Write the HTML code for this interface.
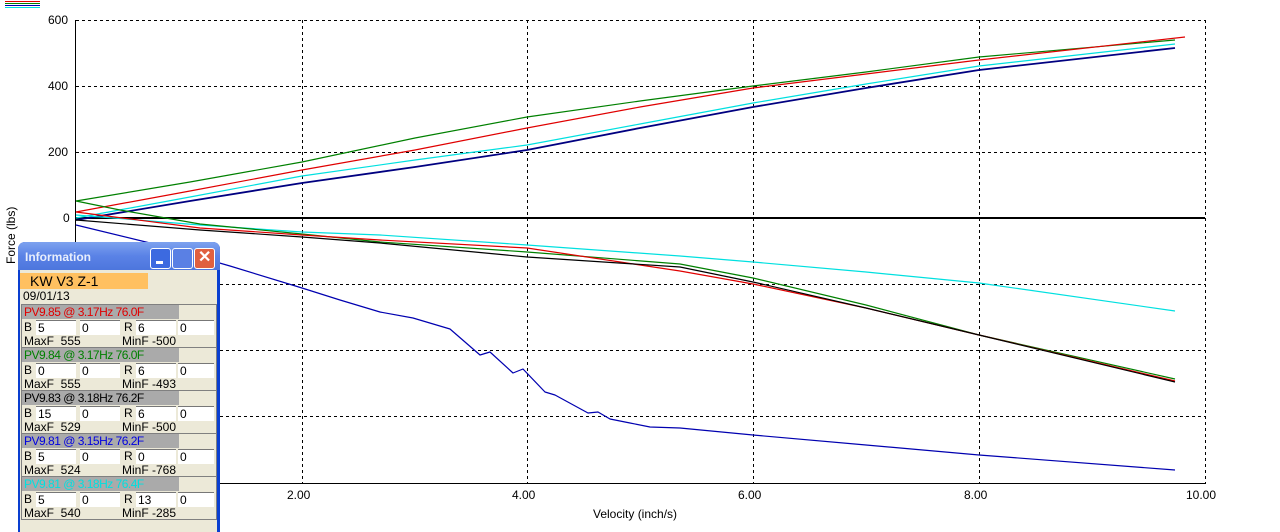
<!DOCTYPE html>
<html><head><style>
body{margin:0;width:1280px;height:523px;background:#fff;overflow:hidden;position:relative;font-family:"Liberation Sans",sans-serif}
.t{position:absolute;font-size:12px;color:#000}
#info{position:absolute;left:18px;top:242px;width:202px;height:290px;background:#0a3fd0;border-radius:7px 7px 0 0}
#tb{height:28px;background:linear-gradient(#7da2ef,#5a82e6 50%,#4d76dd);border-radius:7px 7px 0 0;color:#e8eefc;font-weight:bold;font-size:12px;line-height:30px;padding-left:7px;position:relative}
.bt{position:absolute;top:6px;width:19px;height:19px;border:1px solid #fff;border-radius:3px;background:#3c6ae0}
#body{position:absolute;left:2px;top:28px;right:3px;bottom:0;background:#ece9d8}
.grp{position:absolute;left:1px;width:194px;height:42px;border:1px solid #808080;background:#ece9d8;font-size:12px}
.hd{height:14px;width:155px;background:#aaa;line-height:14px;padding-left:2px;letter-spacing:-0.5px}
.f{position:absolute;top:15px;height:14px;background:#fff;border-top:1px solid #777;font-size:12px;line-height:14px;padding-left:2px}
.l{position:absolute;top:15px}
.m{position:absolute;top:29px}
</style></head><body>
<svg width="1280" height="523" style="position:absolute;left:0;top:0">
<g stroke="#000" stroke-dasharray="3,3" stroke-width="1">
<line x1="76" y1="20.5" x2="1205" y2="20.5"/><line x1="76" y1="86.5" x2="1205" y2="86.5"/><line x1="76" y1="152.5" x2="1205" y2="152.5"/>
<line x1="76" y1="284.5" x2="1205" y2="284.5"/><line x1="76" y1="350.5" x2="1205" y2="350.5"/><line x1="76" y1="416.5" x2="1205" y2="416.5"/>
<line x1="302.5" y1="20" x2="302.5" y2="483"/><line x1="527.5" y1="20" x2="527.5" y2="483"/><line x1="753.5" y1="20" x2="753.5" y2="483"/><line x1="979.5" y1="20" x2="979.5" y2="483"/><line x1="1205.5" y1="20" x2="1205.5" y2="483"/>
</g>
<line x1="75.5" y1="20" x2="75.5" y2="484" stroke="#000"/>
<line x1="75" y1="483.5" x2="1206" y2="483.5" stroke="#000"/>
<line x1="75" y1="218" x2="1205" y2="218" stroke="#000" stroke-width="2"/>
<g fill="none" stroke-width="1.2" stroke-linejoin="round">
<polyline stroke="#008000" points="76,201 190,182 302,162 415,138 527,117 640,101 753,86 866,72 979,57 1175,40"/>
<polyline stroke="#e00000" points="76,212 190,191 302,170 415,150 527,128 640,107 753,88 866,74 979,60 1185,37"/>
<polyline stroke="#00e0e0" points="76,218 190,197 302,176 415,160 527,145 640,124 753,103 866,84 979,66 1175,44"/>
<polyline stroke="#000080" stroke-width="1.8" points="76,220 190,201 302,183 415,167 527,150 640,128 753,107 866,88 979,70 1175,48"/>
<polyline stroke="#00e0e0" points="76,215 200,225 302,232 380,235 527,245 680,256 753,262 866,272 979,283 1175,311"/>
<polyline stroke="#008000" points="76,201 120,210 200,224 302,234 380,242 527,252 680,264 753,278 866,305 979,335 1175,379"/>
<polyline stroke="#e00000" points="76,212 200,228 302,235 380,240 527,248 680,271 753,284 866,308 979,335 1175,381"/>
<polyline stroke="#000" points="76,220 200,230 302,237 380,243 527,257 680,267 753,282 866,308 979,335 1175,382"/>
<polyline stroke="#0000b0" points="76,225 150,243 230,266 302,288 340,300 380,312 413,318 450,329 480,355 490,352 513,373 523,369 545,392 555,395 588,413 598,412 610,419 630,423 650,427 680,428 753,435 866,445 979,455 1175,470"/>
</g>
<rect x="5" y="1" width="35" height="1" fill="#e00000"/><rect x="5" y="3" width="35" height="1" fill="#008000"/><rect x="5" y="5" width="35" height="1" fill="#0000b0"/><rect x="5" y="7" width="35" height="1" fill="#00e0e0"/>
</svg>
<div class="t" style="left:48px;top:13px">600</div>
<div class="t" style="left:48px;top:79px">400</div>
<div class="t" style="left:48px;top:145px">200</div>
<div class="t" style="left:63px;top:211px">0</div>
<div class="t" style="left:287px;top:488px">2.00</div>
<div class="t" style="left:512px;top:488px">4.00</div>
<div class="t" style="left:738px;top:488px">6.00</div>
<div class="t" style="left:964px;top:488px">8.00</div>
<div class="t" style="left:1186px;top:488px">10.00</div>
<div class="t" style="left:593px;top:507px">Velocity (inch/s)</div>
<div class="t" style="left:-24px;top:222px;transform:rotate(-90deg);width:70px">Force (lbs)</div>
<div id="info">
<div id="tb">Information
<div class="bt" style="left:132px"><div style="position:absolute;left:5px;top:12px;width:7px;height:3px;background:#fff"></div></div>
<div class="bt" style="left:154px;background:#5a80e4"></div>
<div class="bt" style="left:176px;background:#e06040"><div style="position:absolute;left:3px;top:-6px;color:#fff;font-size:16px">✕</div></div>
</div>
<div id="body">
<div style="position:absolute;left:0;top:3px;width:118px;height:16px;background:#ffc060;font-size:14px;line-height:16px;padding-left:10px">KW V3 Z-1</div>
<div style="position:absolute;left:3px;top:19px;font-size:12px">09/01/13</div>
<div class="grp" style="top:34px"><div class="hd" style="color:#e00000">PV9.85 @ 3.17Hz 76.0F</div><span class="l" style="left:2px">B</span><div class="f" style="left:14px;width:38px">5</div><div class="f" style="left:58px;width:38px">0</div><span class="l" style="left:102px">R</span><div class="f" style="left:114px;width:38px">6</div><div class="f" style="left:156px;width:34px">0</div><span class="m" style="left:2px">MaxF &nbsp;555</span><span class="m" style="left:100px">MinF -500</span></div>
<div class="grp" style="top:77px"><div class="hd" style="color:#008000">PV9.84 @ 3.17Hz 76.0F</div><span class="l" style="left:2px">B</span><div class="f" style="left:14px;width:38px">0</div><div class="f" style="left:58px;width:38px">0</div><span class="l" style="left:102px">R</span><div class="f" style="left:114px;width:38px">6</div><div class="f" style="left:156px;width:34px">0</div><span class="m" style="left:2px">MaxF &nbsp;555</span><span class="m" style="left:100px">MinF -493</span></div>
<div class="grp" style="top:120px"><div class="hd" style="color:#000">PV9.83 @ 3.18Hz 76.2F</div><span class="l" style="left:2px">B</span><div class="f" style="left:14px;width:38px">15</div><div class="f" style="left:58px;width:38px">0</div><span class="l" style="left:102px">R</span><div class="f" style="left:114px;width:38px">6</div><div class="f" style="left:156px;width:34px">0</div><span class="m" style="left:2px">MaxF &nbsp;529</span><span class="m" style="left:100px">MinF -500</span></div>
<div class="grp" style="top:163px"><div class="hd" style="color:#0000e0">PV9.81 @ 3.15Hz 76.2F</div><span class="l" style="left:2px">B</span><div class="f" style="left:14px;width:38px">5</div><div class="f" style="left:58px;width:38px">0</div><span class="l" style="left:102px">R</span><div class="f" style="left:114px;width:38px">0</div><div class="f" style="left:156px;width:34px">0</div><span class="m" style="left:2px">MaxF &nbsp;524</span><span class="m" style="left:100px">MinF -768</span></div>
<div class="grp" style="top:206px"><div class="hd" style="color:#00e0e0">PV9.81 @ 3.18Hz 76.4F</div><span class="l" style="left:2px">B</span><div class="f" style="left:14px;width:38px">5</div><div class="f" style="left:58px;width:38px">0</div><span class="l" style="left:102px">R</span><div class="f" style="left:114px;width:38px">13</div><div class="f" style="left:156px;width:34px">0</div><span class="m" style="left:2px">MaxF &nbsp;540</span><span class="m" style="left:100px">MinF -285</span></div>
</div></div>
</body></html>
